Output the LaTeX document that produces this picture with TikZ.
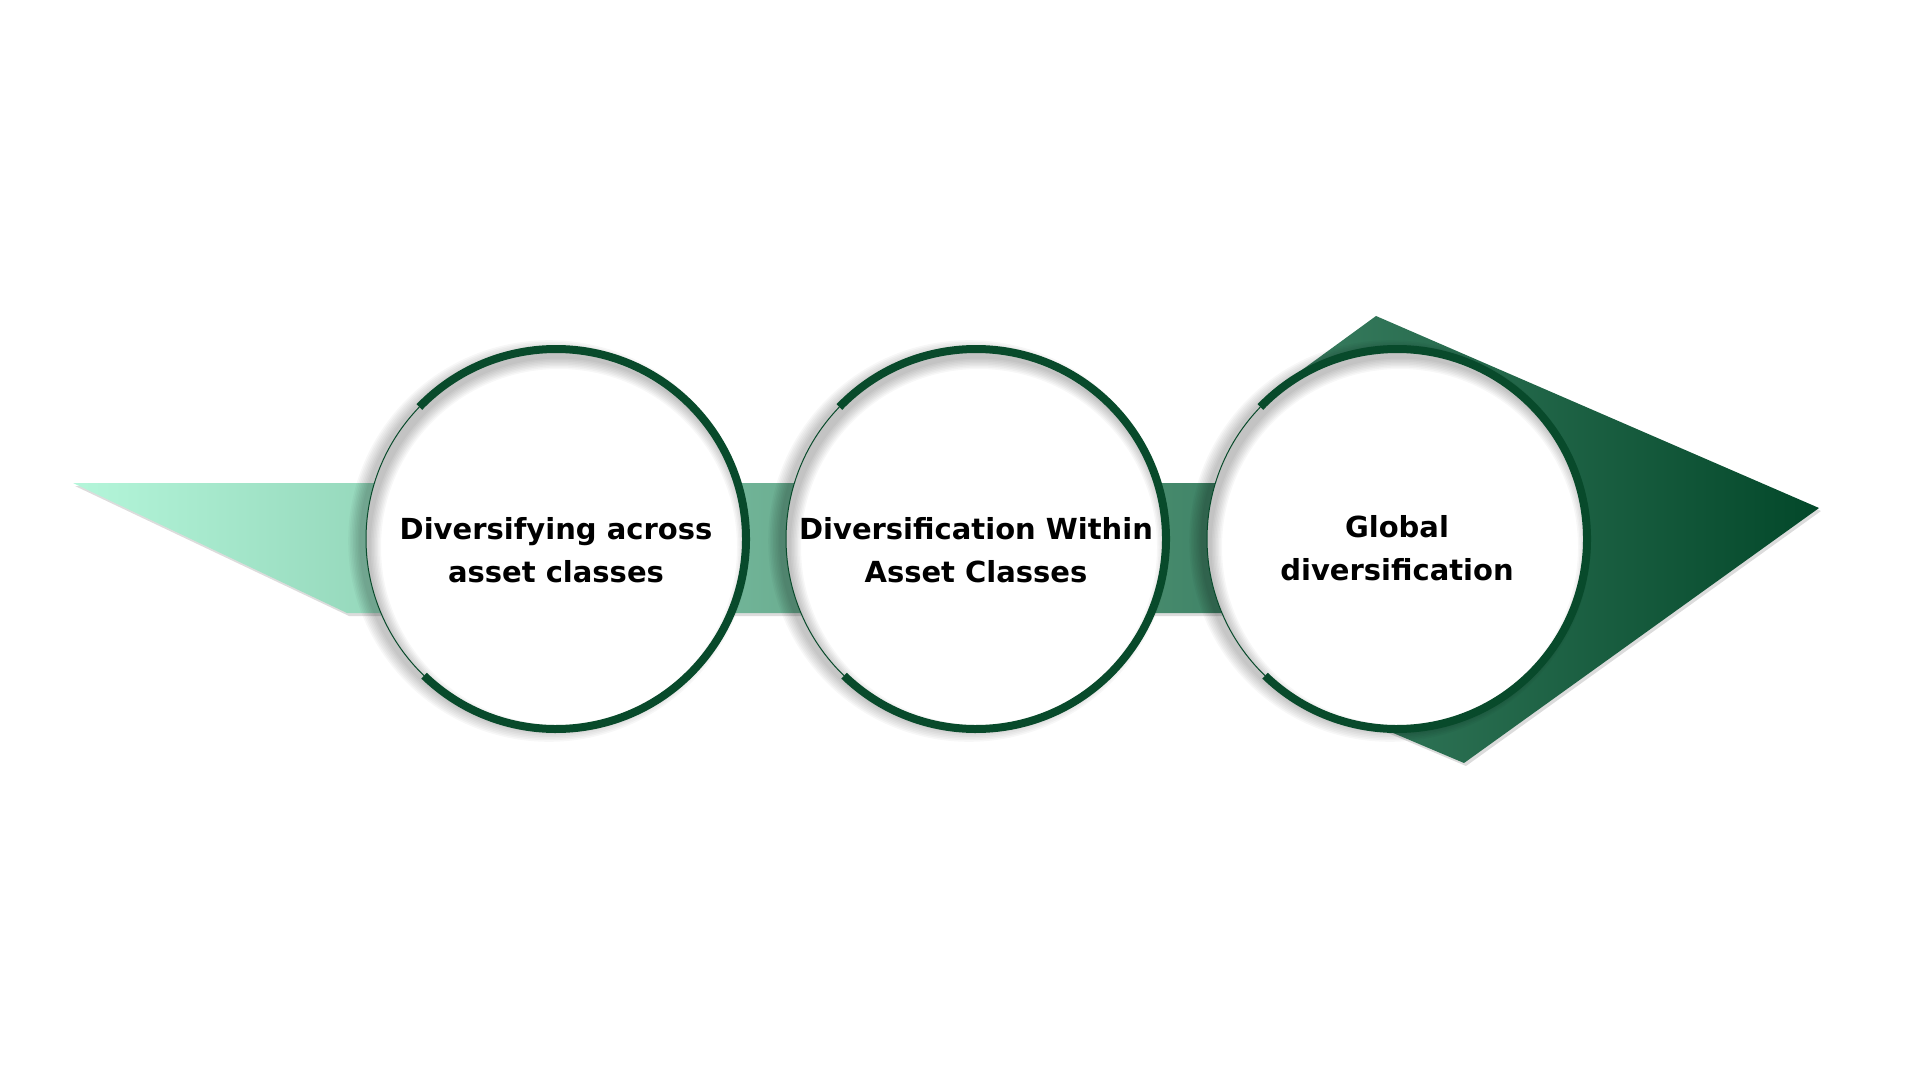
\documentclass[tikz,border=0pt]{standalone}
\usepackage{fontspec}
\setmainfont{DejaVu Sans}
\usetikzlibrary{calc}
\definecolor{mint}{HTML}{B4F6DA}
\definecolor{forest}{HTML}{03482A}
\definecolor{ringgreen}{HTML}{084A2B}

\begin{document}
\begin{tikzpicture}[x=0.5pt,y=-0.5pt,%
      stage/.style={circle,fill=white,inner sep=0pt,outer sep=0pt,%
        minimum size=190pt},%
      ring/.style={ringgreen,line width=4pt},%
      thinring/.style={ringgreen,line width=0.5pt},%
      caption/.style={align=center,text=black,%
        font=\bfseries\fontsize{14.5}{21.5}\selectfont}%
      ]
      \useasboundingbox (0,0) rectangle (1920,1080);%
      %% corners of the arrow
      \coordinate (tail) at (73,483);%
      \coordinate (bandne) at (1400,483);%
      \coordinate (bandse) at (1400,613);%
      \coordinate (tailse) at (347,613);%
      \coordinate (headn) at (1376,316);%
      \coordinate (tip) at (1819,508);%
      \coordinate (heads) at (1464,763);%
      \coordinate (headsw) at (1327,705);%
      \coordinate (headnw) at (1284,383);%
      %% centres of the stages
      \coordinate (c1) at (556,539);%
      \coordinate (c2) at (976,539);%
      \coordinate (c3) at (1397,539);%
      %% the arrow, with a faint shadow
      \fill[black!45,opacity=.3,transform canvas={shift={(1pt,-1.5pt)}}]%
      (tail) -- (bandne) -- (bandse) -- (tailse) -- cycle%
      (headn) -- (tip) -- (heads) -- (headsw) -- (c3) -- (headnw) -- cycle;%
      \path[left color=mint,right color=forest]%
      (tail) -- (bandne) -- (bandse) -- (tailse) -- cycle%
      (headn) -- (tip) -- (heads) -- (headsw) -- (c3) -- (headnw) -- cycle;%
      %% shadows of the discs
      \foreach \c in {c1,c2,c3} {%
        \foreach \k in {1,...,8} {%
          \fill[black,opacity=.032] ([xshift=-3.5pt,yshift=-1pt]\c)%
          circle (94pt+\k*0.8pt);%
        }%
      }%
      %% create nodes
      \node[stage] (s1) at (c1) {};%
      \node[stage] (s2) at (c2) {};%
      \node[stage] (s3) at (c3) {};%
      %% inner shadow, rim and text
      \foreach \s in {s1,s2,s3} {%
        \begin{scope}
          \clip (\s.center) circle (95pt);%
          \foreach \k in {1,...,8} {%
            \fill[black,opacity=.032,even odd rule] (\s.center) circle (110pt)%
            ([shift={(1.5pt,-4pt)}]\s.center) circle (95pt-\k*0.75pt);%
          }%
        \end{scope}
        \draw[ring] (\s.136) arc[start angle=136,end angle=-134,radius=95pt];%
        \draw[thinring] (\s.136) arc[start angle=136,end angle=226,radius=95pt];%
      }%
      \node[caption] (t1) at ([yshift=-5.5pt]s1.center) {Diversifying across\\asset classes};%
      \node[caption] (t2) at ([yshift=-5.5pt]s2.center) {Diversification Within\\Asset Classes};%
      \node[caption] (t3) at ([yshift=-4.5pt]s3.center) {Global\\diversification};%
    \end{tikzpicture}
\end{document}
